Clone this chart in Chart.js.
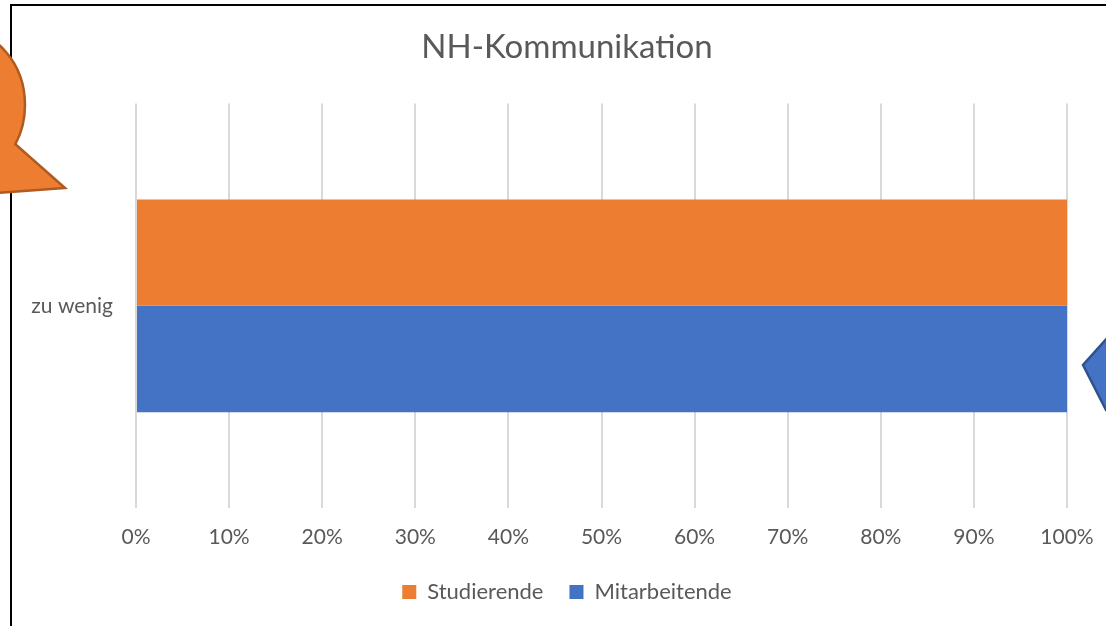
<!DOCTYPE html>
<html>
<head>
<meta charset="utf-8">
<script src="https://cdn.jsdelivr.net/npm/chart.js@4"></script>
<style>
  html, body { margin: 0; padding: 0; background: #fff; }
  #wrap { width: 1106px; height: 626px; position: relative; }
</style>
</head>
<body>
<div id="wrap"><canvas id="chart"></canvas></div>
<script>
const categories = ['zu wenig'];
const studierende = [100];
const mitarbeitende = [100];
const seriesNames = ['Studierende', 'Mitarbeitende'];

const FONT = 'Lato';

// frame + the two callout shapes around the chart
const decor = {
  id: 'decor',
  afterDraw(chart) {
    const ctx = chart.ctx;
    ctx.save();
    ctx.strokeStyle = '#000';
    ctx.lineWidth = 2;
    ctx.beginPath();
    ctx.moveTo(11, 626);
    ctx.lineTo(11, 5);
    ctx.lineTo(1106, 5);
    ctx.stroke();

    // orange callout top left
    ctx.beginPath();
    ctx.ellipse(-40, 105, 65, 75, 0, -Math.PI / 2, 0.55);
    ctx.lineTo(65, 188);
    ctx.lineTo(-5, 193);
    ctx.closePath();
    ctx.fillStyle = '#ed7d31';
    ctx.fill();
    ctx.strokeStyle = '#ae5a21';
    ctx.lineWidth = 2.5;
    ctx.stroke();

    // blue callout right
    ctx.beginPath();
    ctx.moveTo(1110, 335);
    ctx.lineTo(1083, 365);
    ctx.lineTo(1106, 410);
    ctx.lineTo(1110, 410);
    ctx.closePath();
    ctx.fillStyle = '#4472c4';
    ctx.fill();
    ctx.strokeStyle = '#2f528f';
    ctx.stroke();
    ctx.restore();
  }
};

new Chart(document.getElementById('chart'), {
  type: 'bar',
  plugins: [decor],
  data: {
    labels: categories,
    datasets: [
      {
        label: seriesNames[0],
        data: studierende,
        backgroundColor: '#ed7d31',
        categoryPercentage: 0.526,
        barPercentage: 1,
      },
      {
        label: seriesNames[1],
        data: mitarbeitende,
        backgroundColor: '#4472c4',
        categoryPercentage: 0.526,
        barPercentage: 1,
      },
    ],
  },
  options: {
    indexAxis: 'y',
    responsive: true,
    maintainAspectRatio: false,
    animation: false,
    layout: {
      padding: { left: 28, right: 0, top: 0, bottom: 13 },
    },
    scales: {
      x: {
        min: 0,
        max: 100,
        afterFit: s => { s.height = 47; s.paddingRight = 39; },
        ticks: {
          stepSize: 10,
          callback: v => v + '%',
          color: '#595959',
          font: { family: FONT, size: 21 },
          padding: 17,
        },
        grid: { color: '#d9d9d9', lineWidth: 2, drawTicks: false },
        border: { display: false },
      },
      y: {
        afterFit: s => { s.width = 108; },
        ticks: {
          color: '#595959',
          font: { family: FONT, size: 21 },
          padding: 23,
        },
        grid: { display: false, drawTicks: false },
        border: { display: false },
      },
    },
    plugins: {
      title: {
        display: true,
        text: 'NH-Kommunikation',
        color: '#595959',
        font: { family: FONT, size: 33, weight: 'normal' },
        padding: { top: 28, bottom: 36 },
      },
      legend: {
        position: 'bottom',
        labels: {
          color: '#595959',
          font: { family: FONT, size: 22 },
          boxWidth: 14,
          boxHeight: 14,
          padding: 26,
        },
      },
      tooltip: { enabled: false },
    },
  },
});
</script>
</body>
</html>
